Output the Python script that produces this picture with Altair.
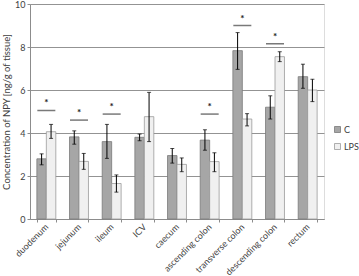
import altair as alt
import pandas as pd

cats = ["duodenum", "jejunum", "ileum", "ICV", "caecum", "ascending colon",
        "transverse colon", "descending colon", "rectum"]
groups = ["C", "LPS"]
c_mean = [2.8, 3.82, 3.6, 3.8, 2.95, 3.67, 7.83, 5.2, 6.62]
c_low = [2.52, 3.48, 2.82, 3.64, 2.6, 3.2, 6.96, 4.65, 6.08]
c_high = [3.03, 4.1, 4.4, 3.95, 3.28, 4.15, 8.67, 5.73, 7.2]
lps_mean = [4.06, 2.68, 1.65, 4.76, 2.54, 2.67, 4.65, 7.55, 6.0]
lps_low = [3.75, 2.31, 1.25, 3.6, 2.2, 2.2, 4.33, 7.32, 5.46]
lps_high = [4.4, 3.05, 2.05, 5.89, 2.84, 3.08, 4.9, 7.78, 6.5]

sig_cats = ["duodenum", "jejunum", "ileum", "ascending colon", "transverse colon", "descending colon"]
sig_y = [5.05, 4.6, 4.88, 4.88, 9.0, 8.15]

rows = []
for i, c in enumerate(cats):
    rows.append({"cat": c, "grp": "C", "v": c_mean[i], "lo": c_low[i], "hi": c_high[i]})
    rows.append({"cat": c, "grp": "LPS", "v": lps_mean[i], "lo": lps_low[i], "hi": lps_high[i]})
df = pd.DataFrame(rows)
sig = pd.DataFrame({"cat": sig_cats, "y": sig_y, "s": ["*"] * len(sig_cats)})

FONT = "Lato"
xscale = alt.Scale(domain=cats, paddingInner=0.42, paddingOuter=0.21)
yscale = alt.Scale(domain=[0, 10], nice=False)

x_enc = alt.X("cat:N", scale=xscale, sort=cats, title=None,
              axis=alt.Axis(labelAngle=-45, labelAlign="right", labelBaseline="middle",
                            labelFontSize=9, labelColor="#404040", labelFont=FONT,
                            tickBand="extent", tickSize=3, tickColor="#8c8c8c",
                            domainColor="#8c8c8c", labelPadding=3))
xo = alt.XOffset("grp:N", scale=alt.Scale(domain=groups, paddingInner=0, paddingOuter=0))

base = alt.Chart(df)

bars = base.mark_bar(strokeWidth=0.8).encode(
    x=x_enc,
    xOffset=xo,
    y=alt.Y("v:Q", scale=yscale, title="Concentration of NPY [ng/g of tissue]",
            axis=alt.Axis(values=list(range(0, 11)), grid=True, gridColor="#939393",
                          domainColor="#8c8c8c", tickColor="#8c8c8c", tickSize=3,
                          labelFontSize=9, labelColor="#404040", labelFont=FONT,
                          labelPadding=2, titleFont=FONT, titleFontSize=9.5,
                          titleFontWeight="normal", titleColor="#404040", titlePadding=3)),
    fill=alt.Fill("grp:N", scale=alt.Scale(domain=groups, range=["#a6a6a6", "#f0f0f0"]),
                  title=None,
                  legend=alt.Legend(orient="none", legendX=303, legendY=121, symbolType="square",
                                    symbolSize=36, labelFontSize=9, labelFont=FONT,
                                    labelColor="#404040", rowPadding=6, symbolStrokeWidth=0.8,
                                    labelOffset=2, padding=0)),
    stroke=alt.Stroke("grp:N", scale=alt.Scale(domain=groups, range=["#7a7a7a", "#9a9a9a"]),
                      title=None),
)

err = base.mark_rule(color="#000000", strokeWidth=1).encode(
    x=alt.X("cat:N", scale=xscale, sort=cats),
    xOffset=xo,
    y="lo:Q",
    y2="hi:Q",
)
cap_lo = base.mark_tick(color="#000000", orient="horizontal", size=4, thickness=1).encode(
    x=alt.X("cat:N", scale=xscale, sort=cats),
    xOffset=xo,
    y=alt.Y("lo:Q", scale=yscale),
)
cap_hi = base.mark_tick(color="#000000", orient="horizontal", size=4, thickness=1).encode(
    x=alt.X("cat:N", scale=xscale, sort=cats),
    xOffset=xo,
    y=alt.Y("hi:Q", scale=yscale),
)

sig_line = alt.Chart(sig).mark_tick(color="#404040", orient="horizontal", size=18,
                                    thickness=1.5).encode(
    x=alt.X("cat:N", scale=xscale, sort=cats),
    y=alt.Y("y:Q", scale=yscale),
)
sig_star = alt.Chart(sig).mark_text(color="#202020", fontSize=10, fontWeight="bold",
                                    baseline="alphabetic", dy=-4, font=FONT).encode(
    x=alt.X("cat:N", scale=xscale, sort=cats),
    y=alt.Y("y:Q", scale=yscale),
    text="s:N",
)

chart = alt.layer(bars, err, cap_lo, cap_hi, sig_line, sig_star).properties(
    width=294, height=215,
    autosize=alt.AutoSizeParams(type="none"),
    padding={"left": 30, "top": 4, "right": 35, "bottom": 57},
).configure_view(stroke=None).configure(font=FONT)

chart.save("out.html", embed_options={"renderer": "svg", "actions": False})
